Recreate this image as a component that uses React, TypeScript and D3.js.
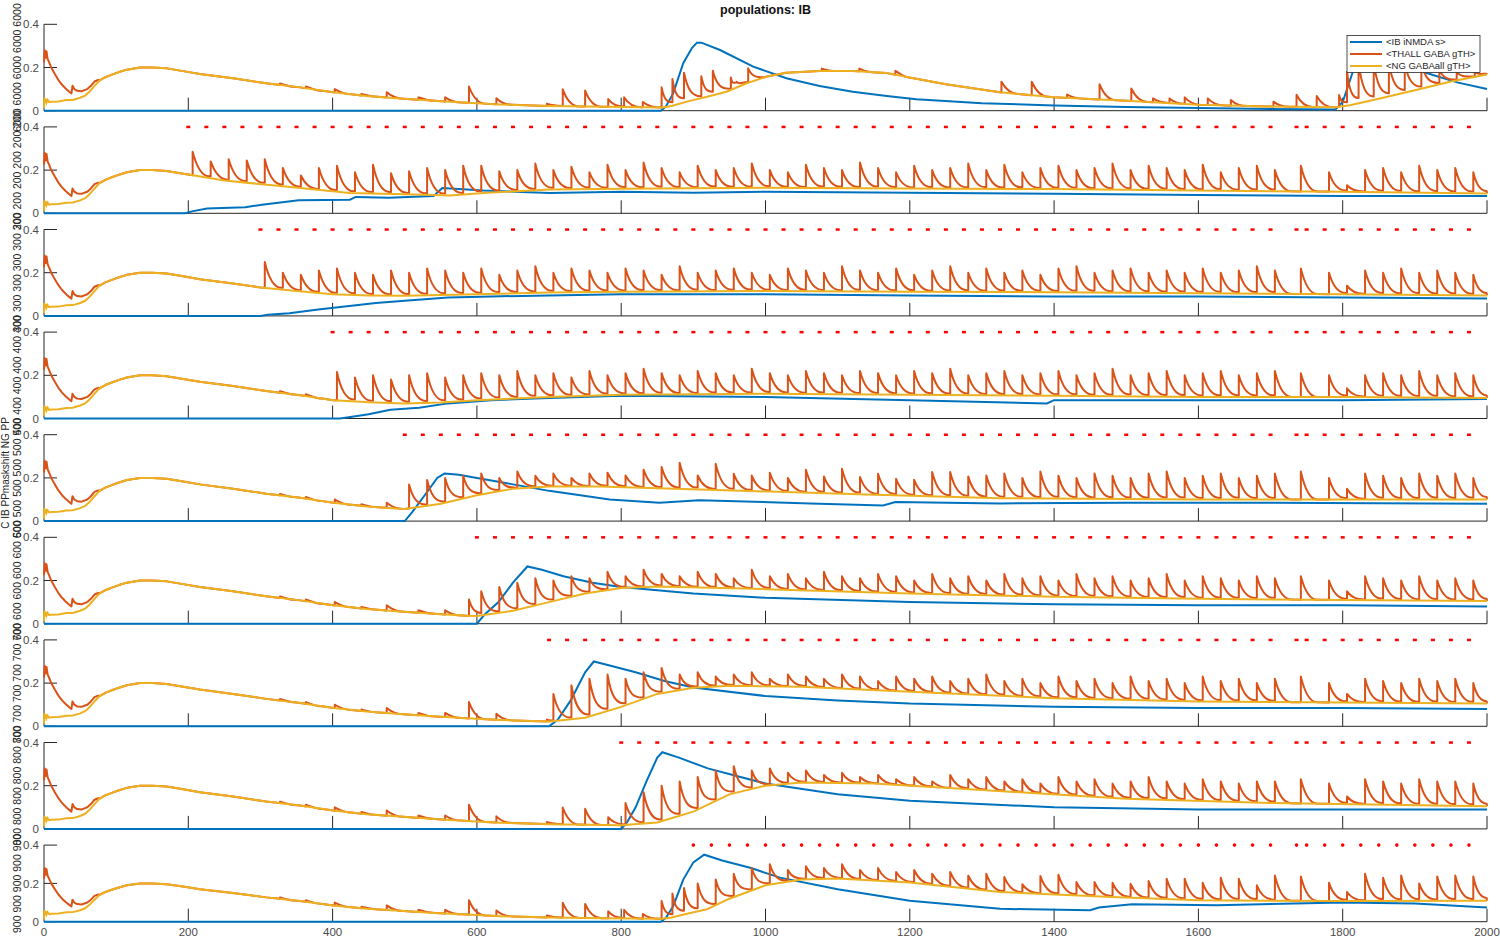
import { useEffect, useRef } from "react";
import * as d3 from "d3";

const WIDTH = 1500;
const HEIGHT = 938;

// one row per mask shift value
const PANEL_LABELS = ["6000", "200", "300", "400", "500", "600", "700", "800", "900"];
const LABEL_REPEATS = [5, 6, 6, 6, 6, 6, 6, 6, 5];
const MASK_ONSET = [6000, 200, 300, 400, 500, 600, 700, 800, 900];
const X_TICKS = [200, 400, 600, 800, 1000, 1200, 1400, 1600, 1800, 2000];
const X_TICK_LABELS = [0, 200, 400, 600, 800, 1000, 1200, 1400, 1600, 1800, 2000];
const Y_TICKS = [0, 0.2, 0.4];
const LEGEND = ["<IB iNMDA s>", "<THALL GABA gTH>", "<NG GABAall gTH>"];
const COLORS = ["#0072BD", "#D95319", "#EDB120"];

// stimulus pulse times (red dots)
const PULSE_T = [
  200, 225, 250, 275, 300, 325, 350, 375, 400, 425, 450, 475, 500, 525, 550, 575, 600, 625, 650, 675,
  700, 725, 750, 775, 800, 825, 850, 875, 900, 925, 950, 975, 1000, 1025, 1050, 1075, 1100, 1125, 1150, 1175,
  1200, 1225, 1250, 1275, 1300, 1325, 1350, 1375, 1400, 1425, 1450, 1475, 1500, 1525, 1550, 1575, 1600, 1625, 1650, 1675,
  1700, 1736, 1750, 1775, 1800, 1825, 1850, 1875, 1900, 1925, 1950, 1975,
];
const SPIKE_DELAY = 6;
const DECAY = 23;

// spontaneous THALL events (shared by all runs before the mask starts)
const SPONT_T = [327, 363, 403, 440, 475, 519, 556, 589, 627, 697, 719, 750, 782, 804, 830, 856, 871, 887, 911, 927, 952, 960, 976,
  1078, 1130, 1180, 1327, 1369, 1418, 1463, 1507, 1537, 1560, 1581, 1613, 1645, 1704, 1736, 1764, 1795, 1806, 1822, 1843, 1864, 1886, 1909, 1934, 1958, 1983];
const SPONT_PEAK = [0.126, 0.112, 0.1, 0.078, 0.085, 0.062, 0.062, 0.112, 0.058, 0.032, 0.099, 0.093, 0.054, 0.062, 0.04, 0.108, 0.147, 0.176, 0.16, 0.185, 0.154, 0.134, 0.196,
  0.195, 0.195, 0.185, 0.134, 0.134, 0.075, 0.123, 0.103, 0.057, 0.057, 0.062, 0.057, 0.05, 0.042, 0.074, 0.068, 0.073, 0.18, 0.22, 0.22, 0.22, 0.22, 0.22, 0.19, 0.18, 0.18];

const ORANGE_START = [[0, 0.225], [1, 0.28], [2.5, 0.245], [3.5, 0.275], [5, 0.24], [7, 0.225], [10, 0.2], [15, 0.17], [20, 0.142],
  [25, 0.12], [30, 0.103], [35, 0.088], [38, 0.08], [39.5, 0.115], [42, 0.1], [46, 0.092], [52, 0.09], [56, 0.095], [60, 0.1], [65, 0.115], [70, 0.135], [75, 0.142]];

const YELLOW_PRE = [[0, 0.012], [0.5, 0.06], [1.5, 0.035], [2.5, 0.055], [3.5, 0.038], [5, 0.05], [7, 0.04], [10, 0.042], [20, 0.043], [31, 0.049],
  [40, 0.05], [50, 0.06], [57, 0.07], [63, 0.088], [70, 0.115], [77, 0.14], [85, 0.155], [95, 0.168], [105, 0.18], [115, 0.19], [133, 0.2],
  [150, 0.2], [170, 0.196], [195, 0.182], [216, 0.17], [262, 0.15], [308, 0.127], [355, 0.108], [401, 0.085], [447, 0.068], [493, 0.057],
  [540, 0.046], [586, 0.037], [632, 0.029], [700, 0.022], [777, 0.018], [857, 0.015]];

const YELLOW_POST = [
  [[870, 0.022], [891, 0.042], [919, 0.065], [946, 0.088], [974, 0.127], [1002, 0.158], [1029, 0.176], [1075, 0.184], [1121, 0.184], [1168, 0.174], [1209, 0.148], [1250, 0.122], [1325, 0.085], [1400, 0.062], [1500, 0.046], [1600, 0.027], [1700, 0.019], [1790, 0.016], [1810, 0.025], [1850, 0.055], [1900, 0.095], [1950, 0.135], [2000, 0.168]],
  [[200, 0.18], [250, 0.152], [331, 0.125], [424, 0.094], [516, 0.087], [563, 0.082], [609, 0.094], [655, 0.102], [701, 0.11], [800, 0.114], [1000, 0.118], [1200, 0.115], [1400, 0.112], [1600, 0.105], [1800, 0.1], [2000, 0.092]],
  [[300, 0.132], [350, 0.115], [400, 0.1], [450, 0.095], [500, 0.093], [600, 0.1], [700, 0.108], [800, 0.112], [1000, 0.115], [1200, 0.112], [1400, 0.11], [1600, 0.105], [1800, 0.1], [2000, 0.095]],
  [[402, 0.085], [450, 0.075], [500, 0.07], [550, 0.074], [600, 0.084], [700, 0.1], [800, 0.11], [1000, 0.115], [1200, 0.11], [1400, 0.105], [1600, 0.1], [1800, 0.1], [2000, 0.095]],
  [[500, 0.056], [550, 0.08], [600, 0.12], [650, 0.15], [700, 0.16], [770, 0.16], [955, 0.142], [1140, 0.123], [1325, 0.106], [1600, 0.1], [2000, 0.1]],
  [[600, 0.036], [650, 0.06], [700, 0.1], [750, 0.14], [800, 0.165], [850, 0.172], [1000, 0.16], [1200, 0.14], [1400, 0.125], [1600, 0.115], [1800, 0.11], [2000, 0.105]],
  [[701, 0.022], [750, 0.04], [800, 0.09], [850, 0.15], [900, 0.178], [950, 0.188], [1050, 0.183], [1200, 0.16], [1400, 0.13], [1600, 0.115], [1800, 0.11], [2000, 0.105]],
  [[800, 0.017], [850, 0.03], [900, 0.08], [950, 0.16], [1000, 0.2], [1050, 0.215], [1150, 0.21], [1300, 0.18], [1500, 0.14], [1700, 0.12], [2000, 0.105]],
  [[870, 0.022], [891, 0.042], [919, 0.065], [950, 0.12], [1000, 0.19], [1050, 0.22], [1100, 0.225], [1200, 0.205], [1325, 0.155], [1480, 0.129], [1600, 0.112], [1800, 0.108], [2000, 0.11]],
];

const BLUE = [
  [[0, 0], [855, 0], [862, 0.02], [872, 0.08], [886, 0.22], [898, 0.29], [905, 0.315], [911, 0.315], [937, 0.281], [983, 0.204], [1029, 0.15], [1075, 0.114], [1121, 0.088], [1168, 0.068], [1209, 0.053], [1300, 0.035], [1400, 0.024], [1500, 0.017], [1600, 0.012], [1700, 0.008], [1790, 0.006], [1800, 0.04], [1808, 0.12], [1815, 0.19], [1830, 0.25], [1850, 0.245], [1880, 0.215], [1925, 0.165], [1960, 0.13], [2000, 0.1]],
  [[0, 0], [196, 0], [205, 0.009], [226, 0.022], [279, 0.028], [302, 0.04], [353, 0.06], [424, 0.063], [432, 0.076], [478, 0.072], [540, 0.08], [552, 0.117], [609, 0.105], [701, 0.094], [800, 0.1], [900, 0.095], [1000, 0.1], [1200, 0.095], [1400, 0.09], [1600, 0.085], [1800, 0.08], [2000, 0.08]],
  [[0, 0], [300, 0], [310, 0.005], [340, 0.012], [380, 0.03], [420, 0.045], [460, 0.06], [500, 0.07], [560, 0.085], [620, 0.09], [700, 0.095], [800, 0.1], [1000, 0.1], [1200, 0.095], [1400, 0.09], [1600, 0.09], [1800, 0.085], [2000, 0.08]],
  [[0, 0], [410, 0], [420, 0.005], [450, 0.02], [480, 0.04], [520, 0.05], [560, 0.07], [620, 0.085], [700, 0.095], [800, 0.105], [1000, 0.1], [1200, 0.085], [1390, 0.07], [1400, 0.085], [1600, 0.085], [1800, 0.085], [2000, 0.09]],
  [[0, 0], [500, 0], [510, 0.04], [530, 0.13], [545, 0.2], [555, 0.22], [575, 0.215], [600, 0.2], [650, 0.17], [700, 0.14], [784, 0.1], [853, 0.085], [908, 0.097], [1062, 0.082], [1163, 0.072], [1180, 0.088], [1325, 0.082], [1500, 0.085], [1700, 0.085], [2000, 0.08]],
  [[0, 0], [600, 0], [610, 0.04], [630, 0.1], [650, 0.19], [670, 0.265], [690, 0.25], [720, 0.22], [760, 0.19], [800, 0.17], [900, 0.14], [1000, 0.12], [1200, 0.1], [1400, 0.09], [1600, 0.085], [1800, 0.085], [2000, 0.08]],
  [[0, 0], [700, 0], [712, 0.03], [730, 0.12], [750, 0.25], [762, 0.3], [780, 0.285], [820, 0.25], [860, 0.21], [900, 0.18], [1000, 0.14], [1100, 0.12], [1200, 0.105], [1400, 0.09], [1600, 0.085], [1800, 0.085], [2000, 0.08]],
  [[0, 0], [800, 0], [808, 0.03], [820, 0.1], [835, 0.22], [850, 0.33], [857, 0.355], [880, 0.33], [920, 0.28], [960, 0.245], [1000, 0.21], [1100, 0.16], [1200, 0.13], [1400, 0.1], [1600, 0.09], [1800, 0.09], [2000, 0.09]],
  [[0, 0], [855, 0], [862, 0.02], [872, 0.08], [886, 0.22], [900, 0.31], [915, 0.35], [940, 0.32], [980, 0.28], [1020, 0.23], [1100, 0.17], [1200, 0.11], [1325, 0.067], [1450, 0.06], [1462, 0.074], [1508, 0.091], [1626, 0.086], [1800, 0.1], [1900, 0.095], [2000, 0.074]],
];

// THALL peak after each pulse, from the mask onset on (0 = no event)
const PEAKS = [
  [],
  [0.285, 0.24, 0.25, 0.245, 0.25, 0.21, 0.175, 0.21, 0.22, 0.19,
    0.225, 0.185, 0.195, 0.21, 0.2, 0.22, 0.22, 0.195, 0.2, 0.23,
    0.2, 0.215, 0.19, 0.225, 0.2, 0.235, 0.21, 0.19, 0.22, 0.2,
    0.21, 0.23, 0.2, 0.19, 0.225, 0.21, 0.2, 0.235, 0.21, 0.19,
    0.22, 0.2, 0.21, 0.23, 0.2, 0.225, 0.19, 0.21, 0.22, 0.2,
    0.21, 0.23, 0.2, 0.22, 0.21, 0.2, 0.225, 0.19, 0.21, 0.22,
    0.2, 0.22, 0, 0.19, 0.13, 0.2, 0.21, 0.19, 0.22, 0.2, 0.21, 0.19],
  [0.25, 0.2, 0.19, 0.21, 0.22, 0.2, 0.19, 0.21, 0.2, 0.22,
    0.21, 0.2, 0.22, 0.19, 0.21, 0.23, 0.2, 0.22, 0.21, 0.2,
    0.22, 0.21, 0.19, 0.23, 0.2, 0.21, 0.22, 0.2, 0.19, 0.22,
    0.21, 0.2, 0.23, 0.21, 0.2, 0.22, 0.19, 0.21, 0.23, 0.2,
    0.22, 0.2, 0.21, 0.19, 0.22, 0.23, 0.2, 0.21, 0.22, 0.2,
    0.21, 0.2, 0.22, 0.2, 0.21, 0.23,
    0.21, 0.22, 0, 0.2, 0.14, 0.21, 0.2, 0.22, 0.2, 0.21, 0.2, 0.19],
  [0.215, 0.19, 0.2, 0.18, 0.2, 0.21, 0.19, 0.2, 0.21, 0.2,
    0.22, 0.2, 0.21, 0.19, 0.22, 0.2, 0.21, 0.23, 0.21, 0.2,
    0.22, 0.21, 0.2, 0.23, 0.21, 0.2, 0.22, 0.21, 0.2, 0.22,
    0.21, 0.2, 0.22, 0.21, 0.23, 0.2, 0.21, 0.22, 0.2, 0.21,
    0.22, 0.2, 0.21, 0.23, 0.2, 0.21, 0.22, 0.2, 0.21, 0.22,
    0.2, 0.21,
    0.22, 0.21, 0, 0.2, 0.14, 0.2, 0.21, 0.2, 0.22, 0.2, 0.21, 0.2],
  [0.17, 0.19, 0.2, 0.21, 0.22, 0.2, 0.23, 0.21, 0.22, 0.2, 0.22,
    0.224, 0.211, 0.238, 0.25, 0.27, 0.211, 0.265, 0.219, 0.211, 0.224, 0.2,
    0.238, 0.207, 0.242, 0.204, 0.219, 0.196, 0.191, 0.227, 0.227, 0.207, 0.211,
    0.22, 0.2, 0.23, 0.21, 0.2, 0.22, 0.21, 0.2, 0.22, 0.23, 0.2, 0.21, 0.22, 0.2, 0.21,
    0.22, 0.23, 0, 0.2, 0.15, 0.22, 0.21, 0.2, 0.22, 0.21, 0.22, 0.2],
  [0.15, 0.17, 0.19, 0.21, 0.2, 0.22, 0.21, 0.24, 0.22, 0.25,
    0.23, 0.22, 0.24, 0.23, 0.21, 0.25, 0.22, 0.23, 0.21, 0.24,
    0.22, 0.21, 0.23, 0.22, 0.2, 0.23, 0.21, 0.22, 0.2, 0.23,
    0.21, 0.22, 0.2, 0.23, 0.21, 0.22, 0.2, 0.21, 0.23, 0.2,
    0.22, 0.21, 0.2, 0.22, 0.21,
    0.22, 0, 0.2, 0.15, 0.22, 0.21, 0.2, 0.22, 0.2, 0.21, 0.2],
  [0.15, 0.19, 0.22, 0.24, 0.22, 0.25, 0.27, 0.24, 0.25, 0.23,
    0.24, 0.25, 0.22, 0.24, 0.23, 0.22, 0.24, 0.23, 0.21, 0.23,
    0.22, 0.23, 0.21, 0.22, 0.24, 0.21, 0.22, 0.2, 0.23, 0.21,
    0.22, 0.2, 0.23, 0.21, 0.22, 0.2, 0.23, 0.21, 0.22, 0.2,
    0.22, 0.23, 0, 0.2, 0.15, 0.22, 0.21, 0.2, 0.22, 0.21, 0.22, 0.2],
  [0.12, 0.17, 0.2, 0.22, 0.24, 0.27, 0.29, 0.27, 0.28, 0.26,
    0.27, 0.25, 0.26, 0.24, 0.25, 0.23, 0.24, 0.22, 0.25, 0.23,
    0.24, 0.22, 0.23, 0.21, 0.24, 0.22, 0.23, 0.21, 0.22, 0.24,
    0.22, 0.21, 0.23, 0.22, 0.21, 0.22,
    0.22, 0.23, 0, 0.21, 0.15, 0.23, 0.22, 0.21, 0.23, 0.22, 0.22, 0.21],
  [0.2, 0.22, 0.25, 0.28, 0.3, 0.27, 0.29, 0.28, 0.3, 0.27,
    0.28, 0.26, 0.27, 0.25, 0.26, 0.24, 0.25,
    0.233, 0.195, 0.238, 0.245, 0.207, 0.207, 0.203, 0.198, 0.212, 0.224, 0.224, 0.203, 0.229, 0.224, 0.19, 0.241,
    0.236, 0, 0.203, 0.155, 0.25, 0.229, 0.241, 0.2, 0.236, 0.241, 0.236],
];

export default function App() {
  const ref = useRef<SVGSVGElement>(null);

  useEffect(() => {
    const svg = d3.select(ref.current);
    svg.selectAll("*").remove();

    const x = d3.scaleLinear().domain([0, 2000]).range([44, 1487]);
    const font = "'Liberation Sans', Arial, sans-serif";

    svg.append("text")
      .attr("x", 765.5).attr("y", 14)
      .attr("text-anchor", "middle")
      .attr("font-family", font).attr("font-weight", "bold").attr("font-size", 12.5)
      .attr("fill", "#111")
      .text("populations: IB");

    PANEL_LABELS.forEach((label, i) => {
      const top = 24.3 + 102.6 * i;
      const bottom = i < 8 ? top + 86.4 : 921.7;
      const y = d3.scaleLinear().domain([0, 0.4]).range([bottom, top]);
      const g = svg.append("g");
      const onset = MASK_ONSET[i];

      // axes
      g.append("line").attr("x1", x(0)).attr("x2", x(2000)).attr("y1", y(0)).attr("y2", y(0)).attr("stroke", "#262626");
      g.append("line").attr("x1", x(0)).attr("x2", x(0)).attr("y1", y(0)).attr("y2", y(0.4)).attr("stroke", "#262626");
      X_TICKS.forEach((t) => {
        g.append("line").attr("x1", x(t)).attr("x2", x(t)).attr("y1", y(0)).attr("y2", y(0) - 13).attr("stroke", "#262626");
      });
      Y_TICKS.forEach((v) => {
        g.append("line").attr("x1", x(0)).attr("x2", x(0) + 13).attr("y1", y(v)).attr("y2", y(v)).attr("stroke", "#262626");
        g.append("text")
          .attr("x", 39).attr("y", y(v)).attr("dy", "0.36em")
          .attr("text-anchor", "end")
          .attr("font-family", font).attr("font-size", 11.5).attr("fill", "#4a4a4a")
          .text(String(v));
      });
      if (i === 8) {
        X_TICK_LABELS.forEach((t) => {
          g.append("text")
            .attr("x", x(t)).attr("y", 936)
            .attr("text-anchor", "middle")
            .attr("font-family", font).attr("font-size", 11.5).attr("fill", "#4a4a4a")
            .text(String(t));
        });
      }

      // ylabel
      const cy = (top + bottom) / 2;
      g.append("text")
        .attr("transform", `translate(20.5,${cy}) rotate(-90)`)
        .attr("text-anchor", "middle")
        .attr("font-family", font).attr("font-size", 10.5).attr("fill", "#262626")
        .text(Array(LABEL_REPEATS[i]).fill(label).join(" "));
      if (i === 4) {
        g.append("text")
          .attr("transform", `translate(9,${cy - 5}) rotate(-90)`)
          .attr("text-anchor", "middle")
          .attr("font-family", font).attr("font-size", 10).attr("fill", "#262626")
          .text("C IB PPmaskshift NG PP");
      }

      // yellow keys for this run
      const post = YELLOW_POST[i];
      const yk = [...YELLOW_PRE.filter((k) => k[0] < post[0][0]), ...post];
      const base = d3.scaleLinear().domain(yk.map((k) => k[0])).range(yk.map((k) => k[1]));

      const line = d3.line<number[]>().x((d) => x(d[0])).y((d) => y(d[1]));

      // blue
      g.append("path").attr("d", line(BLUE[i])).attr("fill", "none")
        .attr("stroke", COLORS[0]).attr("stroke-width", 2);

      // orange
      const startIdx = PULSE_T.indexOf(onset);
      const spikes: number[][] = [];
      SPONT_T.forEach((t, j) => { if (t < onset) spikes.push([t, SPONT_PEAK[j]]); });
      PEAKS[i].forEach((pk, j) => {
        if (pk > 0) spikes.push([PULSE_T[startIdx + j] + SPIKE_DELAY, pk]);
      });
      spikes.sort((a, b) => a[0] - b[0]);

      const p = d3.path();
      ORANGE_START.forEach(([t, v], j) => (j === 0 ? p.moveTo(x(t), y(v)) : p.lineTo(x(t), y(v))));
      let cursor = ORANGE_START[ORANGE_START.length - 1][0];
      let level = -1;
      const follow = (until: number) => {
        yk.forEach(([t, v]) => { if (t > cursor && t < until) p.lineTo(x(t), y(v)); });
      };
      spikes.forEach(([ts, pk], j) => {
        const tn = j + 1 < spikes.length ? spikes[j + 1][0] : 2000;
        if (level < 0) {
          follow(ts);
          p.lineTo(x(ts), y(base(ts)));
        } else {
          p.lineTo(x(ts), y(level));
        }
        p.lineTo(x(ts), y(pk));
        const b0 = Math.min(base(ts), pk);
        const span = Math.min(DECAY, tn - ts - 0.5, 2000 - ts);
        const tau = DECAY / 2.7;
        const te = ts + span;
        const amp = pk - b0;
        const close = tn - te < 3;
        const endLevel = base(te) + (close ? amp * Math.exp(-span / tau) : 0);
        // exponential-like fall drawn as a cubic bezier
        p.bezierCurveTo(
          x(ts + 0.6 * tau * span / DECAY), y(b0 + 0.4 * amp),
          x(ts + 1.4 * tau * span / DECAY), y(endLevel),
          x(te), y(endLevel),
        );
        cursor = te;
        level = close ? endLevel : -1;
      });
      follow(2001);
      p.lineTo(x(2000), y(base(2000)));
      g.append("path").attr("d", p.toString()).attr("fill", "none")
        .attr("stroke", COLORS[1]).attr("stroke-width", 2).attr("stroke-linejoin", "round");

      // yellow
      g.append("path").attr("d", line(yk)).attr("fill", "none")
        .attr("stroke", COLORS[2]).attr("stroke-width", 2);

      // pulses
      const pulses = PULSE_T.filter((t) => t >= onset);
      if (i < 8) {
        g.selectAll("rect.pulse").data(pulses).enter().append("rect")
          .attr("x", (t) => x(t) - 2).attr("y", y(0.4) - 1.2)
          .attr("width", 4).attr("height", 2.5).attr("fill", "#ff0000");
      } else {
        g.selectAll("circle.pulse").data(pulses).enter().append("circle")
          .attr("cx", (t) => x(t)).attr("cy", y(0.4)).attr("r", 1.8).attr("fill", "#ff0000");
      }
    });

    // legend
    const lg = svg.append("g").attr("transform", "translate(1347,35.5)");
    lg.append("rect").attr("width", 133).attr("height", 37).attr("fill", "#fff").attr("stroke", "#262626").attr("stroke-width", 0.8);
    LEGEND.forEach((name, k) => {
      const yy = 6.5 + k * 12;
      lg.append("line").attr("x1", 3).attr("x2", 35).attr("y1", yy).attr("y2", yy).attr("stroke", COLORS[k]).attr("stroke-width", 2);
      lg.append("text").attr("x", 39).attr("y", yy).attr("dy", "0.35em")
        .attr("font-family", font).attr("font-size", 9.5).attr("fill", "#262626").text(name);
    });
  }, []);

  return (
    <svg ref={ref} width={WIDTH} height={HEIGHT}
      style={{ position: "absolute", left: 0, top: 0, background: "#fff" }} />
  );
}
